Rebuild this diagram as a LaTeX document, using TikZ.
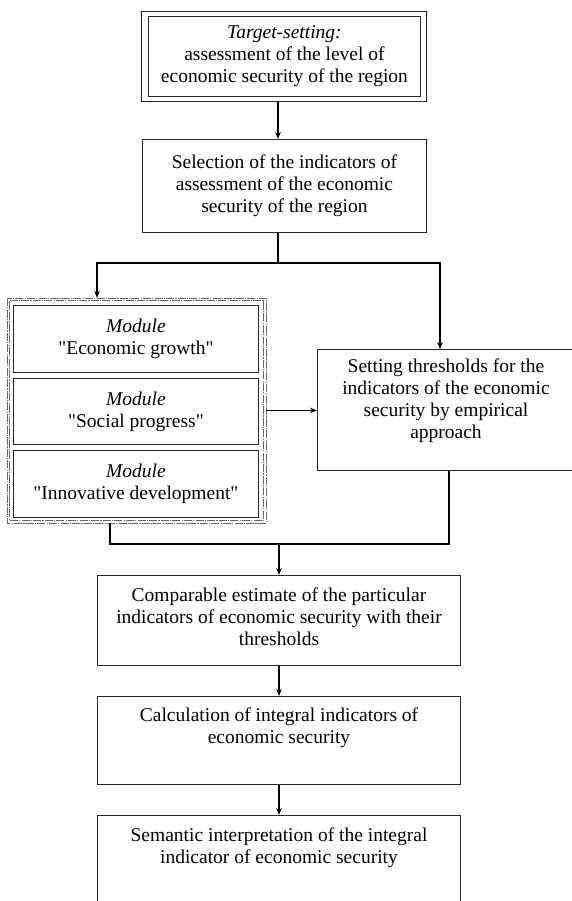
\documentclass[tikz,border=0pt]{standalone}
\usepackage{fontspec}
\setmainfont{Liberation Serif}
\usetikzlibrary{arrows.meta}
\newcommand{\qq}[1]{\textquotedbl#1\textquotedbl}
\begin{document}
\begin{tikzpicture}[x=1pt,y=-1pt,
  box/.style={draw=black!85, line width=0.9pt, inner sep=0pt, anchor=north west},
  dotbox/.style={draw=black!60, line width=0.55pt, dash pattern=on 8pt off 1.2pt on 1.2pt off 1.2pt},
  txt/.style={font=\fontsize{19.5}{22}\selectfont, align=center, inner sep=0pt},
  arr/.style={line width=1.4pt, -{Stealth[length=7pt,width=5.5pt]}},
  ln/.style={line width=1.2pt}]
\useasboundingbox (0,0) rectangle (572,901);
\clip (0,0) rectangle (572,901);
% boxes
\node[box, minimum width=285pt, minimum height=90pt] (tgtout) at (141,11) {};
\node[box, minimum width=272pt, minimum height=80pt] (tgtin) at (148,16) {};
\node[box, minimum width=284pt, minimum height=93pt] (sel) at (142,139) {};
\node[box, draw=none, minimum width=258pt, minimum height=224pt] (modout) at (7,298) {};
\draw[dotbox] (modout.north west) rectangle (modout.south east);
\draw[dotbox] ([xshift=2.5pt,yshift=-2.5pt]modout.north west) rectangle ([xshift=-2.5pt,yshift=2.5pt]modout.south east);
\node[box, minimum width=245pt, minimum height=67pt] (m1) at (13,305) {};
\node[box, minimum width=245pt, minimum height=66pt] (m2) at (13,378) {};
\node[box, minimum width=245pt, minimum height=67pt] (m3) at (13,450) {};
\node[box, minimum width=262pt, minimum height=121pt] (thr) at (317,349) {};
\node[box, minimum width=363pt, minimum height=90pt] (cmp) at (97,575) {};
\node[box, minimum width=363pt, minimum height=88pt] (calc) at (97,696) {};
\node[box, minimum width=363pt, minimum height=110pt] (sem) at (97,815) {};
% texts
\node[txt] (t1) at (tgtin.center) {\textit{Target-setting:}\\assessment of the level of\\economic security of the region};
\node[txt] (t2) at (sel.center) {Selection of the indicators of\\assessment of the economic\\security of the region};
\node[txt] (t3) at (m1.center) {\textit{Module}\\\qq{Economic growth}};
\node[txt] (t4) at (m2.center) {\textit{Module}\\\qq{Social progress}};
\node[txt] (t5) at (m3.center) {\textit{Module}\\\qq{Innovative development}};
\node[txt, anchor=north] (t6) at (446,359) {Setting thresholds for the\\indicators of the economic\\security by empirical\\approach};
\node[txt, anchor=north] (t7) at (279,588) {Comparable estimate of the particular\\indicators of economic security with their\\thresholds};
\node[txt, anchor=north] (t8) at (279,708) {Calculation of integral indicators of\\economic security};
\node[txt, anchor=north] (t9) at (279,828) {Semantic interpretation of the integral\\indicator of economic security};
% helper coordinates
\coordinate (ax) at (278,0);
\coordinate (jy) at (0,263);
\coordinate (lx) at (97,0);
\coordinate (rx) at (440,0);
\coordinate (bx1) at (449,0);
\coordinate (bx2) at (110,0);
\coordinate (by) at (0,544);
\coordinate (cx) at (279,0);
% connectors
\draw[arr] (ax |- tgtout.south) -- (ax |- sel.north);
\draw[ln] (ax |- sel.south) -- (ax |- jy);
\draw[arr] (ax |- jy) -- (lx |- jy) -- (lx |- modout.north);
\draw[arr] (ax |- jy) -- (rx |- jy) -- (rx |- thr.north);
\draw[arr] (modout.east) -- (modout.east -| thr.west);
\draw[ln] (bx1 |- thr.south) -- (bx1 |- by) -- (bx2 |- by) -- (bx2 |- modout.south);
\draw[arr] (cx |- by) -- (cx |- cmp.north);
\draw[arr] (cx |- cmp.south) -- (cx |- calc.north);
\draw[arr] (cx |- calc.south) -- (cx |- sem.north);
\end{tikzpicture}
\end{document}
